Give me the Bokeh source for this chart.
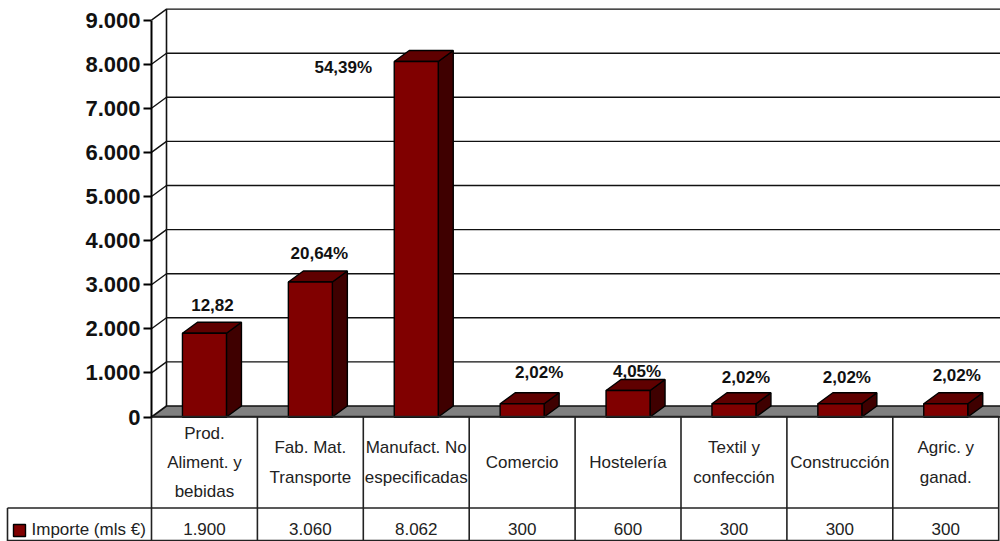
from bokeh.plotting import figure
from bokeh.embed import file_html
from bokeh.resources import INLINE
from bokeh.models import Range1d, FixedTicker
from bokeh.core.properties import value

categories = ["Prod.\nAliment. y\nbebidas", "Fab. Mat.\nTransporte", "Manufact. No\nespecificadas", "Comercio",
              "Hostelería", "Textil y\nconfección", "Construcción", "Agric. y\nganad."]
importe = [1900, 3060, 8062, 300, 600, 300, 300, 300]
importe_labels = ["1.900", "3.060", "8.062", "300", "600", "300", "300", "300"]
pct_labels = ["12,82", "20,64%", "54,39%", "2,02%", "4,05%", "2,02%", "2,02%", "2,02%"]
y_ticks = [0, 1000, 2000, 3000, 4000, 5000, 6000, 7000, 8000, 9000]
tick_labels = ["0", "1.000", "2.000", "3.000", "4.000", "5.000", "6.000", "7.000", "8.000", "9.000"]
series_name = "Importe (mls €)"

# label offsets relative to bar top centre (px)
label_dx = [8, 9, -73, 17, 9, 12, 7, 11]
label_dy = [28, 29, -6, 31, 19, 26, 26, 28]

W, H = 1000, 541
X0, COL = 151.0, 105.9   # pixel of category 0, px per category
Y0, K = 416.5, 44.1      # pixel of value 0, px per 1000
DX_PX, DY_PX = 15, 11
def px(x): return (x - X0) / COL
def py(y): return (Y0 - y) / K * 1000
dx = DX_PX / COL
dy = DY_PX / K * 1000
bw = 44 / COL
n = len(categories)
RIGHT = px(1001)

p = figure(width=W, height=H, x_range=Range1d(px(0), px(W)), y_range=Range1d(py(H), py(0)),
           output_backend="svg", toolbar_location=None, x_axis_type=None, min_border=0,
           outline_line_color=None, background_fill_color="white")
p.grid.visible = False

INK = "#111111"
for v in y_ticks[1:]:
    p.line([0, dx, RIGHT], [v, v + dy, v + dy], line_color=INK, line_width=1.4)
p.line([dx, dx], [dy, 9000 + dy], line_color=INK, line_width=1.6)
p.patch([0, dx, RIGHT, RIGHT], [0, dy, dy, 0], fill_color="#808080", line_color=INK, line_width=1.6)

xs_front, ys_front, xs_top, ys_top, xs_side, ys_side = [], [], [], [], [], []
for i, v in enumerate(importe):
    l, r = i + .5 - bw / 2, i + .5 + bw / 2
    xs_front.append([l, r, r, l]); ys_front.append([0, 0, v, v])
    xs_top.append([l, r, r + dx, l + dx]); ys_top.append([v, v, v + dy, v + dy])
    xs_side.append([r, r + dx, r + dx, r]); ys_side.append([0, dy, v + dy, v])
p.patches(xs_side, ys_side, fill_color="#3f0000", line_color="black", line_width=1.4)
p.patches(xs_top, ys_top, fill_color="#5f0000", line_color="black", line_width=1.4)
p.patches(xs_front, ys_front, fill_color="#800000", line_color="black", line_width=1.4)

FONT = value("Liberation Sans")
p.text([i + .5 for i in range(n)], importe, text=pct_labels, x_offset=label_dx, y_offset=[-d for d in label_dy],
       text_font=FONT, text_font_style="bold", text_font_size="17px", text_color="#111111",
       text_align="center", text_baseline="middle")

for i in range(n + 1):
    p.line([i, i], [py(416), py(541)], line_color="#222222", line_width=1.6)
p.line([0, n], [py(416), py(416)], line_color="#222222", line_width=1.6)
p.line([px(7), n], [py(507.5), py(507.5)], line_color="#222222", line_width=1.6)
p.line([px(7), n], [py(540), py(540)], line_color="#222222", line_width=1.6)
p.line([px(7), px(7)], [py(507.5), py(541)], line_color="#222222", line_width=1.6)
p.text([i + .5 for i in range(n)], [py(462)] * n, text=categories, text_font=FONT, text_font_size="17px",
       text_color="#222222", text_align="center", text_baseline="middle", text_line_height=1.55)
p.text([i + .5 for i in range(n)], [py(528)] * n, text=importe_labels, text_font=FONT, text_font_size="17px",
       text_color="#222222", text_align="center", text_baseline="middle")
p.quad(left=[px(13)], right=[px(25)], top=[py(524)], bottom=[py(536)], fill_color="#800000", line_color="black", line_width=1.4)
p.text([px(31)], [py(529)], text=[series_name], text_font=FONT, text_font_size="17px",
       text_color="#222222", text_align="left", text_baseline="middle")

ax = p.yaxis[0]
p.yaxis.fixed_location = 0
ax.bounds = (0, 9000)
ax.ticker = FixedTicker(ticks=y_ticks)
ax.major_label_overrides = dict(zip(y_ticks, tick_labels))
ax.major_label_text_font = "Liberation Sans"
ax.major_label_text_font_style = "bold"
ax.major_label_text_font_size = "22px"
ax.major_label_text_color = "#111111"
ax.major_label_standoff = 3
ax.major_tick_out = 8
ax.major_tick_in = 0
ax.minor_tick_out = 0
ax.minor_tick_in = 0
ax.axis_line_color = "black"
ax.axis_line_width = 2
ax.major_tick_line_color = "black"
ax.major_tick_line_width = 2

open("out.html", "w").write(file_html(p, INLINE))
